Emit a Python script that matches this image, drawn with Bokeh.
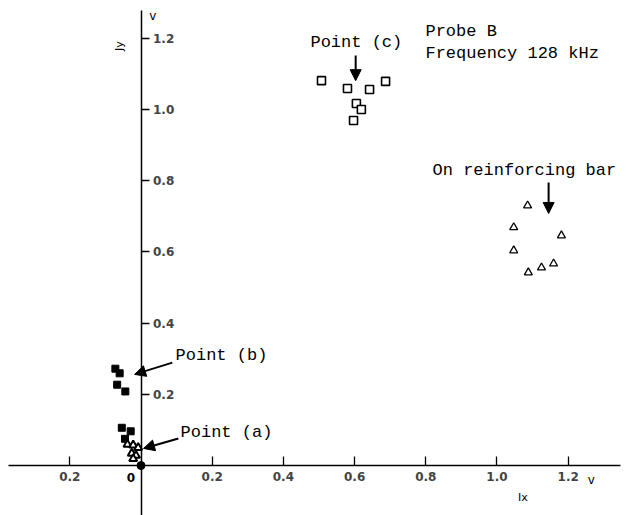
from bokeh.plotting import figure
from bokeh.models import Range1d, LinearAxis, FixedTicker, Arrow, NormalHead
from bokeh.core.properties import value
from bokeh.embed import file_html
from bokeh.resources import INLINE

# ---- data ----
c_x = [0.507, 0.580, 0.642, 0.687, 0.605, 0.619, 0.597]
c_y = [1.081, 1.059, 1.056, 1.079, 1.017, 1.000, 0.969]

bar_x = [1.086, 1.047, 1.181, 1.047, 1.088, 1.125, 1.159]
bar_y = [0.730, 0.669, 0.646, 0.604, 0.542, 0.556, 0.567]

b_x = [-0.072, -0.060, -0.067, -0.044]
b_y = [0.272, 0.259, 0.227, 0.208]

a_sq_x = [-0.054, -0.029, -0.045]
a_sq_y = [0.106, 0.096, 0.075]

a_tri_x = [-0.038, -0.022, -0.008, -0.026, -0.014, -0.022]
a_tri_y = [0.059, 0.057, 0.050, 0.034, 0.028, 0.019]

x_ticks = [-0.2, 0.2, 0.4, 0.6, 0.8, 1.0, 1.2]
x_tick_labels = ["0.2", "0.2", "0.4", "0.6", "0.8", "1.0", "1.2"]
y_ticks = [0.2, 0.4, 0.6, 0.8, 1.0, 1.2]
y_tick_labels = ["0.2", "0.4", "0.6", "0.8", "1.0", "1.2"]

# annotations: (text, x, y)
notes = [
    ("Point (c)", 0.476, 1.188),
    ("Probe B", 0.799, 1.218),
    ("Frequency 128 kHz", 0.799, 1.157),
    ("On reinforcing bar", 0.819, 0.829),
    ("Point (b)", 0.097, 0.309),
    ("Point (a)", 0.111, 0.093),
]
# arrows: (x_start, y_start, x_end, y_end)
arrows = [
    (0.603, 1.152, 0.603, 1.081),
    (1.145, 0.795, 1.145, 0.708),
    (0.088, 0.289, -0.018, 0.256),
    (0.105, 0.076, 0.007, 0.048),
]

FONT = "Liberation Mono"

p = figure(width=627, height=515,
           x_range=Range1d(-0.3947, 1.3666), y_range=Range1d(-0.1404, 1.3062),
           output_backend="svg", toolbar_location=None, min_border=0,
           x_axis_type=None, y_axis_type=None)
p.outline_line_color = None
p.background_fill_color = "white"
p.border_fill_color = "white"

xaxis = LinearAxis(fixed_location=0,
                   ticker=FixedTicker(ticks=x_ticks),
                   major_label_overrides={t: l for t, l in zip(x_ticks, x_tick_labels)},
                   major_tick_in=9, major_tick_out=0,
                   minor_tick_line_color=None,
                   axis_line_width=1.5, major_tick_line_width=1.3,
                   major_label_standoff=6,
                   major_label_text_font="DejaVu Sans",
                   major_label_text_font_size="12px",
                   major_label_text_font_style="bold",
                   bounds=(-0.372, 1.347))
p.add_layout(xaxis, "below")

yaxis = LinearAxis(fixed_location=0,
                   ticker=FixedTicker(ticks=y_ticks),
                   major_label_overrides={t: l for t, l in zip(y_ticks, y_tick_labels)},
                   major_tick_in=0, major_tick_out=8,
                   minor_tick_line_color=None,
                   axis_line_width=1.5, major_tick_line_width=1.3,
                   major_label_standoff=4,
                   major_label_text_font="DejaVu Sans",
                   major_label_text_font_size="12px",
                   major_label_text_font_style="bold",
                   bounds=(-0.1404, 1.278))
p.add_layout(yaxis, "right")

# markers
p.scatter(c_x, c_y, marker="square", size=8, fill_color="white",
          line_color="black", line_width=1.6)
p.scatter(bar_x, bar_y, marker="triangle", size=8, fill_color="white",
          line_color="black", line_width=1.3)
p.scatter(b_x, b_y, marker="square", size=7, fill_color="black", line_color="black")
p.scatter(a_sq_x, a_sq_y, marker="square", size=7, fill_color="black", line_color="black")
p.scatter(a_tri_x, a_tri_y, marker="triangle", size=8, fill_color="white",
          line_color="black", line_width=2)
p.scatter([0], [0], marker="circle", size=8, fill_color="black", line_color="black")

# annotation texts
p.text([n[1] for n in notes], [n[2] for n in notes], text=[n[0] for n in notes],
       text_font=value(FONT), text_font_size="17px", text_baseline="middle",
       text_align="left", text_color="black")

for x0, y0, x1, y1 in arrows:
    p.add_layout(Arrow(x_start=x0, y_start=y0, x_end=x1, y_end=y1,
                       line_width=2, line_color="black",
                       end=NormalHead(size=11, fill_color="black", line_color="black")))

# axis unit labels
p.text([-0.028], [-0.034], text=["0"], text_font=value("DejaVu Sans"),
       text_font_size="12px", text_font_style="bold", text_align="center",
       text_baseline="middle")
p.text([1.265], [-0.042], text=["v"], text_font=value("DejaVu Sans"),
       text_font_size="12px", text_align="center", text_baseline="middle")
p.text([1.073], [-0.09], text=["Ix"], text_font=value("DejaVu Sans"),
       text_font_size="11px", text_align="center", text_baseline="middle")
p.text([0.033], [1.262], text=["v"], text_font=value("DejaVu Sans"),
       text_font_size="12px", text_align="center", text_baseline="middle")
p.text([-0.06], [1.178], text=["Jy"], text_font=value("DejaVu Sans"),
       text_font_size="11px", text_align="center", text_baseline="middle",
       angle=1.5708)

open("out.html", "w").write(file_html(p, INLINE))
